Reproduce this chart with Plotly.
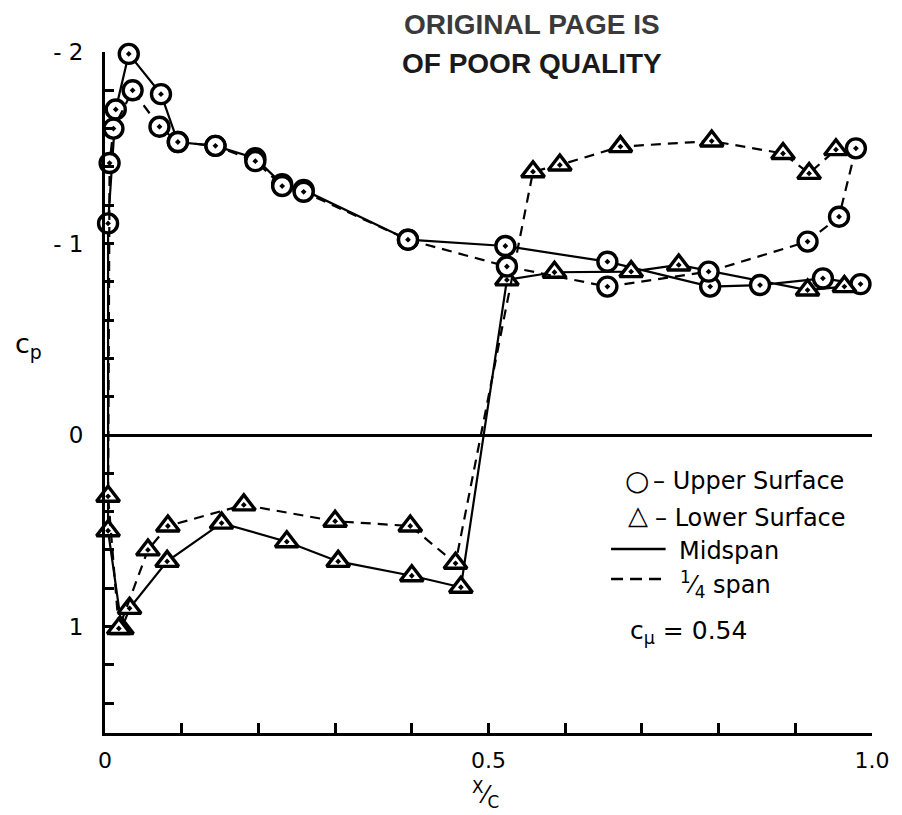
import plotly.graph_objects as go

# ---------------- data (x/c, Cp) ----------------
mid_upper_x = [0.004, 0.014, 0.031, 0.073, 0.095, 0.144, 0.196, 0.231, 0.259, 0.395, 0.522, 0.655, 0.789, 0.854, 0.936, 0.985]
mid_upper_cp = [-1.105, -1.70, -1.99, -1.78, -1.53, -1.51, -1.445, -1.31, -1.28, -1.02, -0.987, -0.905, -0.775, -0.783, -0.818, -0.788]
mid_lower_x = [0.004, 0.022, 0.032, 0.081, 0.152, 0.237, 0.304, 0.400, 0.464, 0.524, 0.586, 0.686, 0.748, 0.916, 0.964]
mid_lower_cp = [0.50, 1.01, 0.905, 0.66, 0.46, 0.557, 0.66, 0.735, 0.795, -0.81, -0.85, -0.853, -0.888, -0.757, -0.775]

q_upper_x = [0.006, 0.011, 0.036, 0.071, 0.095, 0.144, 0.196, 0.231, 0.259, 0.395, 0.524, 0.655, 0.787, 0.916, 0.957, 0.979]
q_upper_cp = [-1.42, -1.60, -1.80, -1.61, -1.53, -1.51, -1.43, -1.30, -1.27, -1.02, -0.88, -0.775, -0.853, -1.01, -1.14, -1.497]
q_lower_x = [0.004, 0.018, 0.056, 0.082, 0.181, 0.300, 0.398, 0.457, 0.558, 0.593, 0.672, 0.791, 0.884, 0.918, 0.953]
q_lower_cp = [0.32, 1.01, 0.60, 0.475, 0.365, 0.45, 0.475, 0.67, -1.375, -1.41, -1.506, -1.535, -1.47, -1.366, -1.49]

x_tickvals = [0, 0.1, 0.2, 0.3, 0.4, 0.5, 0.6, 0.7, 0.8, 0.9, 1.0]
x_ticktext = ["0", "", "", "", "", "0.5", "", "", "", "", "1.0"]
y_tickvals = [-2.0, -1.8, -1.6, -1.4, -1.2, -1.0, -0.8, -0.6, -0.4, -0.2, 0.0, 0.2, 0.4, 0.6, 0.8, 1.0, 1.2, 1.4]
y_ticktext = ["- 2", "", "", "", "", "- 1", "", "", "", "", "0", "", "", "", "", "1", "", ""]

FONT = "DejaVu Sans"
UP_SYM = "circle-dot"
LO_SYM = "triangle-up-dot"

fig = go.Figure()


def add_span(ux, ucp, lx, lcp, dash):
    xs = list(reversed(ux)) + lx
    ys = list(reversed(ucp)) + lcp
    syms = [UP_SYM] * len(ux) + [LO_SYM] * len(lx)
    sizes = [19] * len(ux) + [20] * len(lx)
    fig.add_trace(go.Scatter(
        x=xs, y=ys, mode="lines+markers",
        line=dict(color="black", width=2.2, dash=dash),
        marker=dict(symbol=syms, size=sizes, color="white", opacity=1,
                    line=dict(color="#000000", width=3.4)),
        cliponaxis=False, showlegend=False,
    ))


add_span(mid_upper_x, mid_upper_cp, mid_lower_x, mid_lower_cp, "solid")
add_span(q_upper_x, q_upper_cp, q_lower_x, q_lower_cp, "10px,7px")

L, R, T, B = 105, 878, 52, 733
W, H = 902, 815


def px(xp):
    return (xp - L) / (R - L)


def py(yp):
    return (B - yp) / (B - T)


def note(text, x, y, size=24, xanchor="center", family=FONT, color="black"):
    return dict(text=text, x=px(x), y=py(y), xref="paper", yref="paper",
                xanchor=xanchor, yanchor="middle", showarrow=False,
                font=dict(family=family, size=size, color=color))


ann = [
    note("c<sub>p</sub>", 28, 345, size=27),
    note("<sup>X</sup>⁄<sub>C</sub>", 488, 794, size=24),
    note("<b>ORIGINAL PAGE IS</b>", 535, 25, size=28, family="Liberation Sans", color="#3a3a3a"),
    note("<b>OF POOR QUALITY</b>", 535, 63, size=28, family="Liberation Sans", color="#1a1a1a"),
    note("○", 641, 480, size=28),
    note("– Upper Surface", 655, 481, xanchor="left"),
    note("△", 642, 515, size=26),
    note("– Lower Surface", 657, 518, xanchor="left"),
    note("Midspan", 681, 551, xanchor="left"),
    note("<sup>1</sup>⁄<sub>4</sub> span", 682, 584, xanchor="left"),
    note("c<sub>μ</sub> = 0.54", 632, 632, xanchor="left", size=25),
]

shapes = [
    dict(type="line", xref="paper", yref="paper", x0=px(615), x1=px(670), y0=py(549), y1=py(549),
         line=dict(color="black", width=2.5)),
    dict(type="line", xref="paper", yref="paper", x0=px(615), x1=px(672), y0=py(579), y1=py(579),
         line=dict(color="black", width=2.5, dash="12px,7px")),
]

fig.update_layout(
    width=W, height=H,
    margin=dict(l=L, r=W - R, t=T, b=H - B),
    plot_bgcolor="white", paper_bgcolor="white",
    font=dict(family=FONT, size=20, color="black"),
    annotations=ann, shapes=shapes,
    xaxis=dict(range=[0, 1.0], showgrid=False, zeroline=False, showline=True,
               linecolor="black", linewidth=3, ticks="inside", ticklen=10, tickwidth=2.5,
               tickcolor="black", tickvals=x_tickvals, ticktext=x_ticktext,
               ticklabelstandoff=6, tickfont=dict(family=FONT, size=22, color="black")),
    yaxis=dict(range=[1.556, -2.0], showgrid=False, zeroline=True, zerolinecolor="black",
               zerolinewidth=2.5, showline=True, linecolor="black", linewidth=3,
               ticks="inside", ticklen=9, tickwidth=2.5, tickcolor="black",
               tickvals=y_tickvals, ticktext=y_ticktext, ticklabelstandoff=14,
               tickfont=dict(family=FONT, size=23, color="black")),
)

fig.write_html("out.html")
